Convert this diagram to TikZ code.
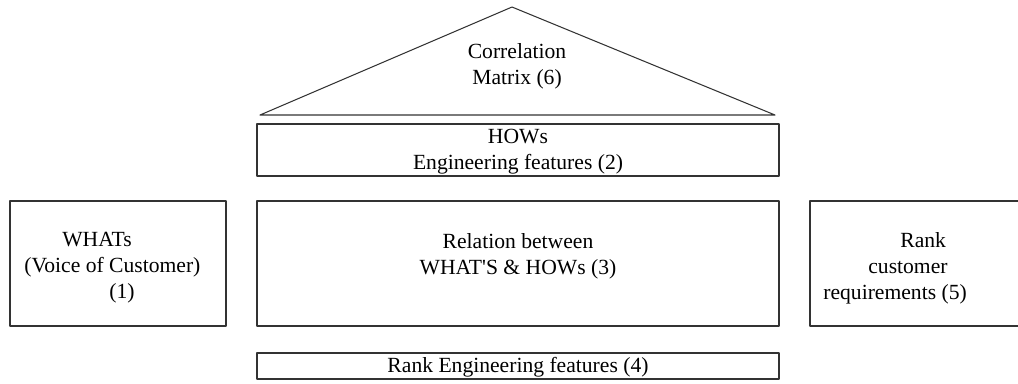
\documentclass[tikz,border=0pt]{standalone}
\usepackage{fontspec}
\setmainfont{Liberation Serif}
\begin{document}
\begin{tikzpicture}[x=0.02cm, y=-0.02cm, line join=round, line cap=round,
	box/.style={draw=black!80, line width=0.6pt},
	label/.style={inner sep=0pt, font=\fontsize{12.3}{14.8}\selectfont}]

	% Khung hình theo kích thước ảnh gốc
	\useasboundingbox (0,0) rectangle (1018,383);
	\clip (0,0) rectangle (1018,383);

	% Tọa độ các đỉnh
	\coordinate (T) at (512,7);
	\coordinate (TL) at (260,115);
	\coordinate (TR) at (775,115);

	% Mái nhà: ma trận tương quan
	\draw[box] (TL) -- (T) -- (TR) -- cycle;
	\node[label, align=center] (corr) at (517,66) {Correlation\\Matrix (6)};

	% Hàng HOWs
	\draw[box] (257,124) rectangle (779,176);
	\node[label, align=center] (hows) at (518,152) {HOWs\\Engineering features (2)};

	% Ba ô giữa
	\draw[box] (10,201) rectangle (226,326);
	\draw[box] (257,201) rectangle (779,326);
	\draw[box] (810,201) rectangle (1030,326);
	\node[label, align=left, anchor=west] (whats) at (24,268)
		{\hspace*{0.76cm}WHATs\\(Voice of Customer)\\\hspace*{1.7cm}(1)};
	\node[label, align=center] (rel) at (518,256) {Relation between\\WHAT\textquotesingle S \& HOWs (3)};
	\node[label, align=left, anchor=west] (rankc) at (823,268)
		{\hspace*{1.54cm}Rank\\\hspace*{0.9cm}customer\\requirements (5)};

	% Hàng đáy
	\draw[box] (257,353) rectangle (779,379);
	\node[label] (ranke) at (518,367) {Rank Engineering features (4)};

\end{tikzpicture}
\end{document}
